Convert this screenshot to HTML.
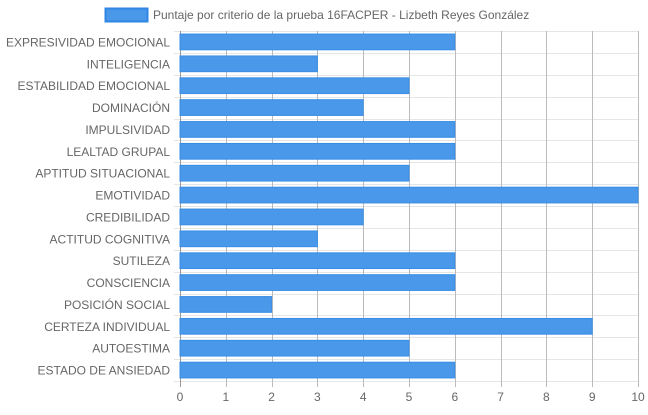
<!DOCTYPE html>
<html><head><meta charset="utf-8"><style>
html,body{margin:0;padding:0;background:#fff;}
svg text{font-family:"Liberation Sans",Arial,sans-serif;}
</style></head><body>
<svg id="chart" width="648" height="410" xmlns="http://www.w3.org/2000/svg">
<g id="legend">
<rect x="105.5" y="8.5" width="42" height="13" fill="#4a98e9" stroke="#2f86e3" stroke-width="2"></rect>
<text x="153" y="19" font-size="12" fill="#666">Puntaje por criterio de la prueba 16FACPER - Lizbeth Reyes González</text>
</g>
<g id="grid"></g><g id="bars"></g><g id="labels"></g>
</svg>
<script>
const categories=["EXPRESIVIDAD EMOCIONAL","INTELIGENCIA","ESTABILIDAD EMOCIONAL","DOMINACIÓN","IMPULSIVIDAD","LEALTAD GRUPAL","APTITUD SITUACIONAL","EMOTIVIDAD","CREDIBILIDAD","ACTITUD COGNITIVA","SUTILEZA","CONSCIENCIA","POSICIÓN SOCIAL","CERTEZA INDIVIDUAL","AUTOESTIMA","ESTADO DE ANSIEDAD"];
const values=[6,3,5,4,6,6,5,10,4,3,6,6,2,9,5,6];
const xTicks=[0,1,2,3,4,5,6,7,8,9,10];
const NS="http://www.w3.org/2000/svg";
const L=180,R=638,T=31,B=381,xMax=10;
const x=v=>L+(R-L)*v/xMax;
const band=(B-T)/categories.length;
const y=i=>T+band*i;
function mk(tag,attrs,parent){const e=document.createElementNS(NS,tag);for(const k in attrs)e.setAttribute(k,attrs[k]);parent.appendChild(e);return e;}
const grid=document.getElementById('grid'),bars=document.getElementById('bars'),labels=document.getElementById('labels');
for(let i=0;i<=categories.length;i++){
 const l=mk('line',{x1:L-6,x2:R,y1:Math.round(y(i))+0.5,y2:Math.round(y(i))+0.5,stroke:'#e5e5e5','stroke-width':1},grid);
 
 
}
xTicks.forEach(t=>{
 const xx=Math.round(x(t))+0.5;
 const l=mk('line',{x1:xx,x2:xx,y1:T,y2:B+6,stroke:t===0?'#999':'#bbb','stroke-width':1},grid);
 
 
 const tx=mk('text',{x:x(t),y:401,'font-size':12,fill:'#666','text-anchor':'middle'},labels);
 tx.textContent=t;
 
 
});
categories.forEach((c,i)=>{
 const h=band*0.72,yy=y(i)+(band-h)/2;
 const r=mk('rect',{x:x(0),y:yy,width:x(values[i])-x(0),height:h,fill:'#4a98e9',stroke:'#3a8ee6','stroke-width':1},bars);
 
 
 const tx=mk('text',{x:170,y:y(i)+band/2+4.5,'font-size':12,fill:'#666','text-anchor':'end'},labels);
 tx.textContent=c;
 
 
});
</script>
</body></html>
